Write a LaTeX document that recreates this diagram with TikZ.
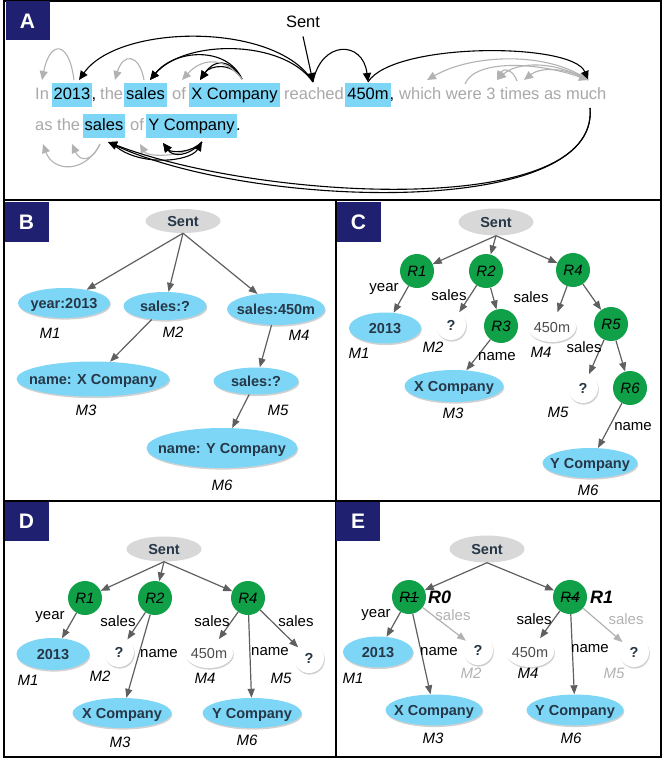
\documentclass[tikz,border=0pt]{standalone}
\usepackage{fontspec}
\setmainfont{Liberation Sans}
\usetikzlibrary{arrows.meta,shapes.geometric,shadows}
\definecolor{hl}{RGB}{125,214,246}
\definecolor{navy}{RGB}{32,32,112}
\definecolor{gtext}{RGB}{168,168,168}
\definecolor{garc}{RGB}{178,178,178}
\definecolor{edgec}{RGB}{95,95,95}
\definecolor{grn}{RGB}{16,160,72}
\definecolor{sentc}{RGB}{216,216,216}
\definecolor{ntext}{RGB}{38,55,72}
\newcommand\wordfont{\fontsize{16.5}{18}\selectfont}
\newcommand\nodefont{\fontsize{14.5}{16}\selectfont}
\newcommand\labfont{\fontsize{15}{17}\selectfont}
\newcommand\zbox[1]{\makebox[0pt]{#1}}
\tikzset{
  panel/.style={line width=2pt,draw=black},
  plabel/.style={fill=navy,text=white,font=\fontsize{21}{22}\selectfont\bfseries,minimum width=44pt,minimum height=39pt,inner sep=0},
  gw/.style={text=gtext,font=\wordfont,inner sep=0,anchor=base west},
  kw/.style={text=black,font=\wordfont,inner sep=0,anchor=base west},
  hlw/.style={fill=hl,text=black,font=\wordfont,inner xsep=2pt,inner ysep=0,text height=17pt,text depth=7pt,anchor=base},
  blk/.style={draw=black,line width=1.1pt,-{Triangle[length=9pt,width=8pt]}},
  gry/.style={draw=garc,line width=1.1pt,-{Triangle[length=9pt,width=8pt]}},
  shd/.style={drop shadow={shadow xshift=0.8pt,shadow yshift=-1.6pt,opacity=0.3,fill=black!60}},
  tnode/.style={inner sep=0pt,text height=10.4pt,text depth=0pt},
  sentn/.style={tnode,ellipse,fill=sentc,font=\nodefont\bfseries,text=ntext},
  bln/.style={tnode,ellipse,fill=hl,font=\nodefont\bfseries,text=ntext,shd},
  rn/.style={tnode,circle,fill=grn,minimum size=34pt,font=\labfont\itshape,text=black},
  qn/.style={tnode,circle,fill=white,minimum size=30pt,font=\nodefont\bfseries,text=ntext,shd},
  vn/.style={tnode,ellipse,fill=white,minimum width=48pt,minimum height=30pt,font=\nodefont,text=black!70,shd},
  elab/.style={font=\labfont,inner sep=0},
  mlab/.style={font=\labfont\itshape,inner sep=0},
  ed/.style={draw=edgec,line width=1.2pt,-{Triangle[length=9pt,width=7pt]}},
  edg/.style={draw=garc,line width=1.2pt,-{Triangle[length=9pt,width=7pt]}}
}
\begin{document}
\begin{tikzpicture}[x=1pt,y=-1pt]
\useasboundingbox (0,0) rectangle (662,759);
% ---------- frames ----------
\draw[panel] (4,1.5) rectangle (661,757);
\draw[panel] (4,200) -- (661,200);
\draw[panel] (4,501) -- (661,501);
\draw[panel] (335.5,200) -- (335.5,757);
\node[plabel] (LA) at (27.5,21) {A};
\node[plabel] (LB) at (26.5,222) {B};
\node[plabel] (LC) at (358.5,222) {C};
\node[plabel] (LD) at (26.5,521) {D};
\node[plabel] (LE) at (358,521) {E};
% ---------- panel A ----------
\node[font=\wordfont] (sentA) at (303,22) {Sent};
\node[gw] (tIn) at (35,100) {In};
\node[hlw] (w2013) at (72,100) {2013};
\node[kw] (c1) at (91.5,100) {,};
\node[gw] (tthe) at (100,100) {the};
\node[hlw] (wsales) at (145.5,100) {sales};
\node[gw] (tof) at (172,100) {of};
\node[hlw] (wX) at (234.5,100) {X Company};
\node[gw] (treach) at (284,100) {reached};
\node[hlw] (w450) at (368,100) {450m};
\node[kw] (c2) at (389.5,100) {,};
\node[gw] (trest) at (399,100) {which were 3 times as much};
\node[gw] (tas) at (35,131) {as the};
\node[hlw] (wsales2) at (104,131) {sales};
\node[gw] (tof2) at (130,131) {of};
\node[hlw] (wY) at (191.5,131) {Y Company};
\node[kw] (dot) at (236,131) {.};
\coordinate (aIn) at (42,80);
\coordinate (a13t) at (79,80);
\coordinate (a13s) at (74,80);
\coordinate (athe) at (115,80);
\coordinate (asal) at (150,80);
\coordinate (asals) at (144,80);
\coordinate (aof) at (182,80);
\coordinate (aX) at (200,80);
\coordinate (aComp) at (242,79);
\coordinate (arch) at (313,82);
\coordinate (a450) at (368,82);
\coordinate (awhich) at (427,80);
\coordinate (awere) at (465,84);
\coordinate (athree) at (497,80);
\coordinate (atimes) at (524,80);
\coordinate (atimess) at (517,81);
\coordinate (amuch) at (588,80);
\coordinate (amuchb) at (590,108);
\coordinate (bas) at (43,144);
\coordinate (bthe) at (72,144);
\coordinate (bsal) at (108,142);
\coordinate (bsals) at (100,144);
\coordinate (bsalr) at (114,145);
\coordinate (bof) at (140,144);
\coordinate (bY) at (163,143);
\coordinate (bComp) at (202,142);
% black arcs
\draw[blk] ([yshift=-5pt]sentA.south) -- (arch);
\draw[blk] (arch) .. controls +(-35,-60) and +(40,-57) .. (a13t);
\draw[blk] (arch) .. controls +(-30,-43) and +(35,-41) .. (asal);
\draw[blk] (aComp) .. controls +(-15,-33) and +(25,-31) .. (asal);
\draw[blk] (aComp) .. controls +(-10,-17) and +(10,-15) .. (aX);
\draw[blk] (aComp) .. controls +(-14,-22) and +(14,-20) .. (aX);
\draw[blk] (arch) .. controls +(8,-42) and +(-5,-42) .. (a450);
\draw[blk] (a450) .. controls +(25,-40) and +(-15,-38) .. (amuch);
% grey arcs
\draw[gry] (aComp) .. controls +(-20,-25) and +(18,-20) .. (aof);
\draw[gry] (a13s) .. controls +(-5,-40) and +(8,-40) .. (aIn);
\draw[gry] (asals) .. controls +(-5,-27) and +(8,-27) .. (athe);
\draw[gry] (amuch) .. controls +(-40,-29) and +(45,-26) .. (awhich);
\draw[gry] (amuch) .. controls +(-35,-20) and +(20,-18) .. (athree);
\draw[gry] (amuch) .. controls +(-25,-14) and +(15,-12) .. (atimes);
\draw[gry] (awere) .. controls +(10,-25) and +(-50,-18) .. (amuch);
\draw[gry] (atimess) .. controls +(-4,-12) and +(6,-12) .. (athree);
% row 2 arcs
\draw[gry] (bsals) .. controls +(-15,30) and +(10,28) .. (bas);
\draw[gry] (bsals) .. controls +(-8,18) and +(8,18) .. (bthe);
\draw[gry] (bComp) .. controls +(-15,15) and +(8,14) .. (bof);
\draw[blk] (bComp) .. controls +(-10,11) and +(8,10) .. (bY);
\draw[blk] (bComp) .. controls +(-14,15) and +(10,14) .. (bY);
\draw[blk] (bsalr) .. controls +(25,22) and +(-12,20) .. (bComp);
\draw[blk] (amuchb) .. controls +(10,112) and +(142,66) .. (bsal);
\draw[blk] (amuchb) .. controls +(10,112) and +(150,58) .. (bsal);
% ---------- panel B ----------
\node[sentn,minimum width=75pt,minimum height=24pt] (BS) at (183,221) {\zbox{Sent}};
\node[bln,minimum width=92pt,minimum height=30pt] (B1) at (64,303) {\zbox{year:2013}};
\node[bln,minimum width=83pt,minimum height=28pt] (B2) at (165,306) {\zbox{sales:?}};
\node[bln,minimum width=98pt,minimum height=32pt] (B4) at (276,309) {\zbox{sales:450m}};
\node[bln,minimum width=153pt,minimum height=35pt] (B3) at (93,379) {\zbox{name: X Company}};
\node[bln,minimum width=85pt,minimum height=27pt] (B5) at (256,381) {\zbox{sales:?}};
\node[bln,minimum width=151pt,minimum height=40pt] (B6) at (222,448) {\zbox{name: Y Company}};
\draw[ed] (BS.south) -- (B1);
\draw[ed] (BS.south) -- (B2);
\draw[ed] (BS.south) -- (B4);
\draw[ed] (B2) -- (B3);
\draw[ed] (B4) -- (B5);
\draw[ed] (B5) -- (B6);
\node[mlab] (BM1) at (50,333) {M1};
\node[mlab] (BM2) at (173,332) {M2};
\node[mlab] (BM4) at (299,335) {M4};
\node[mlab] (BM3) at (86,410) {M3};
\node[mlab] (BM5) at (278,410) {M5};
\node[mlab] (BM6) at (222,485) {M6};
% ---------- panel C ----------
\node[sentn,minimum width=75pt,minimum height=27pt] (CS) at (496,222) {\zbox{Sent}};
\node[rn] (CR1) at (417,271) {\zbox{R1}};
\node[rn] (CR2) at (486,271) {\zbox{R2}};
\node[rn] (CR4) at (573,270) {\zbox{R4}};
\node[bln,minimum width=72pt,minimum height=31pt] (C1) at (385,328) {\zbox{2013}};
\node[qn] (CQ2) at (451,325) {\zbox{?}};
\node[rn] (CR3) at (501,326) {\zbox{R3}};
\node[vn] (C4) at (552,327) {\zbox{450m}};
\node[rn] (CR5) at (611,324) {\zbox{R5}};
\node[qn] (CQ5) at (583,388) {\zbox{?}};
\node[rn] (CR6) at (630,388) {\zbox{R6}};
\node[bln,minimum width=99pt,minimum height=32pt] (C3) at (454,386) {\zbox{X Company}};
\node[bln,minimum width=95pt,minimum height=30pt] (C6) at (590,463) {\zbox{Y Company}};
\draw[ed] (CS.south) -- (CR1);
\draw[ed] (CS.south) -- (CR2);
\draw[ed] (CS.south) -- (CR4);
\draw[ed] (CR1) -- (C1);
\draw[ed] (CR2) -- (CQ2);
\draw[ed] (CR2) -- (CR3);
\draw[ed] (CR3) -- (C3);
\draw[ed] (CR4) -- (C4);
\draw[ed] (CR4) -- (CR5);
\draw[ed] (CR5) -- (CQ5);
\draw[ed] (CR5) -- (CR6);
\draw[ed] (CR6) -- (C6);
\node[elab] (Cl1) at (384,289) {year};
\node[elab] (Cl2) at (449,295) {sales};
\node[elab] (Cl3) at (531,297) {sales};
\node[elab] (Cl4) at (497,357) {name};
\node[elab] (Cl5) at (584,347) {sales};
\node[elab] (Cl6) at (633,427) {name};
\node[mlab] (CM1) at (359,353) {M1};
\node[mlab] (CM2) at (433,347) {M2};
\node[mlab] (CM3) at (453,413) {M3};
\node[mlab] (CM4) at (541,352) {M4};
\node[mlab] (CM5) at (558,412) {M5};
\node[mlab] (CM6) at (588,490) {M6};
% ---------- panel D ----------
\node[sentn,minimum width=75pt,minimum height=25pt] (DS) at (164,549) {\zbox{Sent}};
\node[rn] (DR1) at (85,598) {\zbox{R1}};
\node[rn] (DR2) at (155,598) {\zbox{R2}};
\node[rn] (DR4) at (248,598) {\zbox{R4}};
\node[bln,minimum width=73pt,minimum height=32pt] (D1) at (53,654) {\zbox{2013}};
\node[qn] (DQ2) at (119,652) {\zbox{?}};
\node[vn] (D4) at (209,653) {\zbox{450m}};
\node[qn] (DQ5) at (309,658) {\zbox{?}};
\node[bln,minimum width=99pt,minimum height=30pt] (D3) at (122,713) {\zbox{X Company}};
\node[bln,minimum width=99pt,minimum height=30pt] (D6) at (252,713) {\zbox{Y Company}};
\draw[ed] (DS.south) -- (DR1);
\draw[ed] (DS.south) -- (DR2);
\draw[ed] (DS.south) -- (DR4);
\draw[ed] (DR1) -- (D1);
\draw[ed] (DR2) -- (DQ2);
\draw[ed] (DR2) -- (D3);
\draw[ed] (DR4) -- (D4);
\draw[ed] (DR4) -- (D6);
\draw[ed] (DR4) -- (DQ5);
\node[elab] (Dl1) at (50,617) {year};
\node[elab] (Dl2) at (118,621) {sales};
\node[elab] (Dl3) at (159,654) {name};
\node[elab] (Dl4) at (212,621) {sales};
\node[elab] (Dl5) at (270,652) {name};
\node[elab] (Dl6) at (296,621) {sales};
\node[mlab] (DM1) at (28,680) {M1};
\node[mlab] (DM2) at (100,676) {M2};
\node[mlab] (DM3) at (120,742) {M3};
\node[mlab] (DM4) at (205,678) {M4};
\node[mlab] (DM5) at (281,678) {M5};
\node[mlab] (DM6) at (247,740) {M6};
% ---------- panel E ----------
\node[sentn,minimum width=75pt,minimum height=27pt] (ES) at (487,549) {\zbox{Sent}};
\node[rn] (ER1) at (409,597) {\zbox{R1}};
\node[rn] (ER4) at (570,597) {\zbox{R4}};
\draw[line width=0.9pt] ([xshift=-9.5pt]ER1.center) -- ([xshift=9.5pt]ER1.center);
\draw[line width=0.9pt] ([xshift=-9.5pt]ER4.center) -- ([xshift=9.5pt]ER4.center);
\node[font=\fontsize{18}{20}\selectfont\bfseries\itshape,anchor=west,inner sep=0] (ER0t) at (428,597) {R0};
\node[font=\fontsize{18}{20}\selectfont\bfseries\itshape,anchor=west,inner sep=0] (ER1t) at (590,597) {R1};
\node[bln,minimum width=70pt,minimum height=31pt] (E1) at (378,652) {\zbox{2013}};
\node[qn] (EQ2) at (478,650) {\zbox{?}};
\node[vn] (E4) at (530,652) {\zbox{450m}};
\node[qn] (EQ5) at (634,652) {\zbox{?}};
\node[bln,minimum width=97pt,minimum height=31pt] (E3) at (434,710) {\zbox{X Company}};
\node[bln,minimum width=97pt,minimum height=31pt] (E6) at (575,710) {\zbox{Y Company}};
\draw[ed] (ES.south) -- (ER1);
\draw[ed] (ES.south) -- (ER4);
\draw[ed] (ER1) -- (E1);
\draw[ed] (ER1) -- (E3);
\draw[edg] (ER1) -- (EQ2);
\draw[ed] (ER4) -- (E4);
\draw[ed] (ER4) -- (E6);
\draw[edg] (ER4) -- (EQ5);
\node[elab] (El1) at (376,615) {year};
\node[elab,text=garc] (El2) at (453,615) {sales};
\node[elab] (El3) at (439,652) {name};
\node[elab] (El4) at (534,619) {sales};
\node[elab] (El5) at (590,649) {name};
\node[elab,text=garc] (El6) at (626,619) {sales};
\node[mlab] (EM1) at (353,678) {M1};
\node[mlab,text=garc] (EM2) at (471,673) {M2};
\node[mlab] (EM3) at (433,738) {M3};
\node[mlab] (EM4) at (528,673) {M4};
\node[mlab,text=garc] (EM5) at (614,673) {M5};
\node[mlab] (EM6) at (571,738) {M6};
\end{tikzpicture}
\end{document}
